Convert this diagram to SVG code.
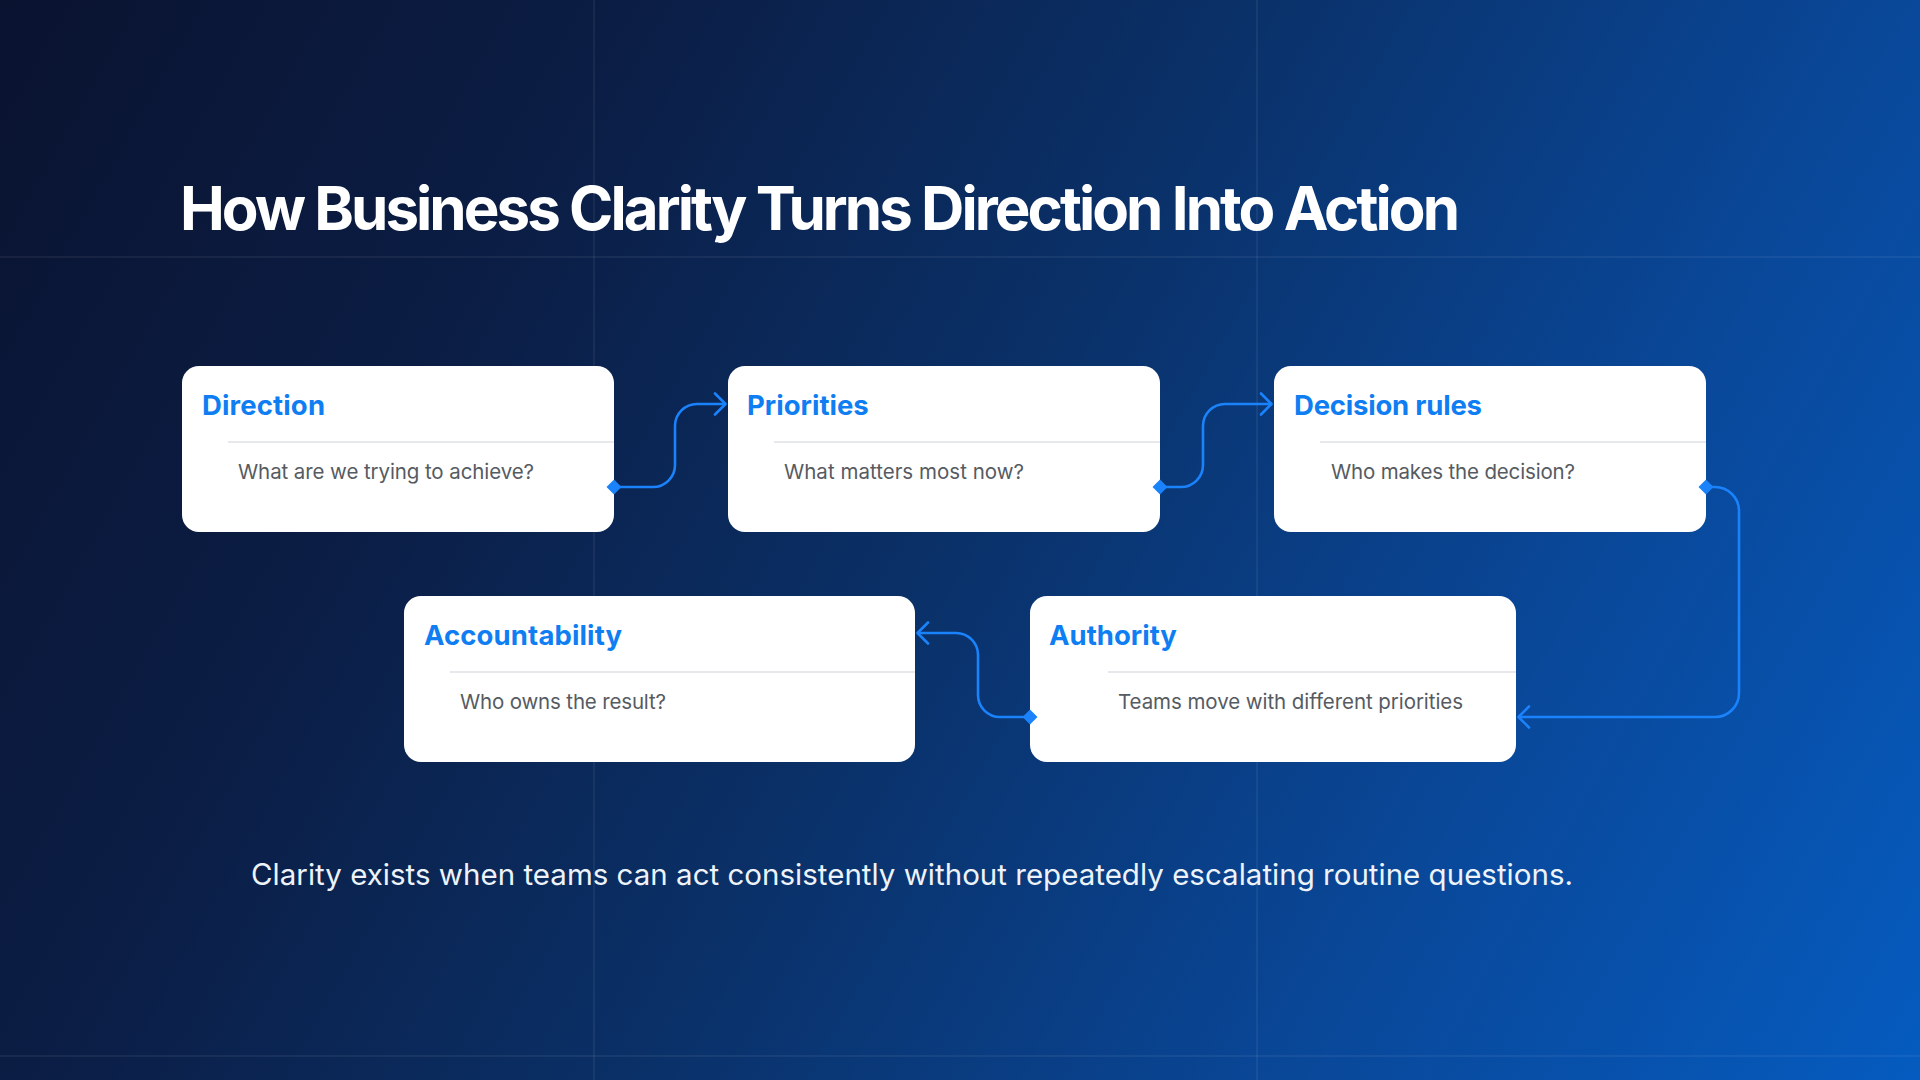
<svg xmlns="http://www.w3.org/2000/svg" width="1920" height="1080" viewBox="0 0 1920 1080">
  <defs>
    <linearGradient id="bg" gradientUnits="userSpaceOnUse" x1="0" y1="0" x2="1920" y2="1080">
      <stop offset="0" stop-color="#0a1330"/>
      <stop offset="0.25" stop-color="#0b1d44"/>
      <stop offset="0.5" stop-color="#0a3169"/>
      <stop offset="0.76" stop-color="#09489a"/>
      <stop offset="1" stop-color="#055bbf"/>
    </linearGradient>
    <marker id="arrow" markerUnits="userSpaceOnUse" markerWidth="18" markerHeight="26" refX="13" refY="12" orient="auto">
      <path d="M2,1.5 L12.5,12 L2,22.5" fill="none" stroke="#1a82fb" stroke-width="2.6" stroke-linecap="round" stroke-linejoin="round"/>
    </marker>
    <marker id="diamond" markerUnits="userSpaceOnUse" markerWidth="18" markerHeight="18" refX="9" refY="9" orient="auto">
      <path d="M9,1.5 L16.5,9 L9,16.5 L1.5,9 Z" fill="#1a82fb"/>
    </marker>
  </defs>
  <style>
    .card { fill: #ffffff; }
    .divider { stroke: #e6e8eb; stroke-width: 2; }
    .ctitle { font-family: Inter, "Liberation Sans", sans-serif; font-weight: 700; font-size: 27.5px; fill: #0f7ef3; }
    .csub { font-family: Inter, "Liberation Sans", sans-serif; font-weight: 400; font-size: 20.5px; fill: #565b62; }
    .grid { stroke: #ffffff; stroke-opacity: 0.08; stroke-width: 1.5; }
    .conn { fill: none; stroke: #1a82fb; stroke-width: 2.6; marker-start: url(#diamond); marker-end: url(#arrow); }
  </style>
  <rect width="1920" height="1080" fill="url(#bg)"/>
  <g id="grid">
    <line class="grid" x1="0" y1="257" x2="1920" y2="257"/>
    <line class="grid" x1="0" y1="1056" x2="1920" y2="1056"/>
    <line class="grid" x1="594" y1="0" x2="594" y2="1080"/>
    <line class="grid" x1="1257" y1="0" x2="1257" y2="1080"/>
  </g>
  <text id="title" x="180" y="230" font-family="Inter, 'Liberation Sans', sans-serif" font-weight="700" font-size="60" fill="#ffffff" textLength="1280" lengthAdjust="spacing">How Business Clarity Turns Direction Into Action</text>
  <g id="node-direction">
    <rect class="card" x="182" y="366" width="432" height="166" rx="17"/>
    <text class="ctitle" x="202" y="415" textLength="123" lengthAdjust="spacing">Direction</text>
    <line class="divider" x1="228" y1="442" x2="614" y2="442"/>
    <text class="csub" x="238" y="479" textLength="296" lengthAdjust="spacing">What are we trying to achieve?</text>
  </g>
  <g id="node-priorities">
    <rect class="card" x="728" y="366" width="432" height="166" rx="17"/>
    <text class="ctitle" x="747" y="415">Priorities</text>
    <line class="divider" x1="774" y1="442" x2="1160" y2="442"/>
    <text class="csub" x="784" y="479" textLength="240" lengthAdjust="spacing">What matters most now?</text>
  </g>
  <g id="node-decision-rules">
    <rect class="card" x="1274" y="366" width="432" height="166" rx="17"/>
    <text class="ctitle" x="1294" y="415" textLength="188" lengthAdjust="spacing">Decision rules</text>
    <line class="divider" x1="1320" y1="442" x2="1706" y2="442"/>
    <text class="csub" x="1331" y="479" textLength="244" lengthAdjust="spacing">Who makes the decision?</text>
  </g>
  <g id="node-accountability">
    <rect class="card" x="404" y="596" width="511" height="166" rx="17"/>
    <text class="ctitle" x="424" y="645" textLength="198" lengthAdjust="spacing">Accountability</text>
    <line class="divider" x1="450" y1="672" x2="915" y2="672"/>
    <text class="csub" x="460" y="709" textLength="206" lengthAdjust="spacing">Who owns the result?</text>
  </g>
  <g id="node-authority">
    <rect class="card" x="1030" y="596" width="486" height="166" rx="17"/>
    <text class="ctitle" x="1049" y="645">Authority</text>
    <line class="divider" x1="1108" y1="672" x2="1516" y2="672"/>
    <text class="csub" x="1118" y="709" textLength="345" lengthAdjust="spacing">Teams move with different priorities</text>
  </g>
  <g id="connectors">
    <path class="conn" d="M614,487 H653 A22,22 0 0 0 675,465 V426 A22,22 0 0 1 697,404 H726"/>
    <path class="conn" d="M1160,487 H1181 A22,22 0 0 0 1203,465 V426 A22,22 0 0 1 1225,404 H1272"/>
    <path class="conn" d="M1706,487 H1715 A24,24 0 0 1 1739,511 V693 A24,24 0 0 1 1715,717 H1518"/>
    <path class="conn" d="M1030,717 H1000 A22,22 0 0 1 978,695 V655 A22,22 0 0 0 956,633 H917"/>
  </g>
  <text id="footer" x="251" y="885" font-family="Inter, 'Liberation Sans', sans-serif" font-weight="400" font-size="29.5" fill="#eef3fa" textLength="1322" lengthAdjust="spacing">Clarity exists when teams can act consistently without repeatedly escalating routine questions.</text>
</svg>
